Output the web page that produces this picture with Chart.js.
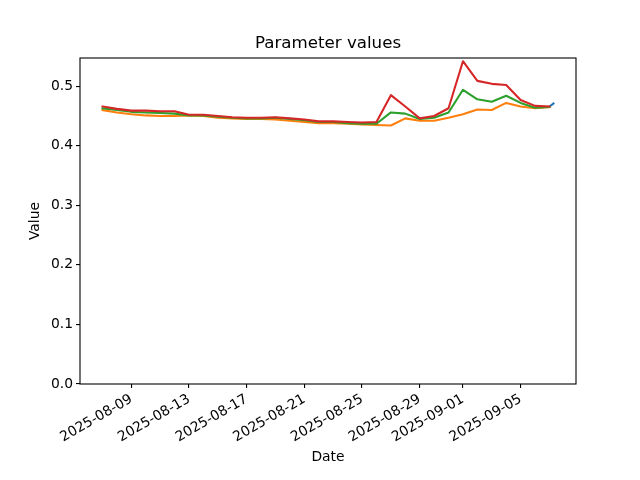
<!DOCTYPE html>
<html>
<head>
<meta charset="utf-8">
<script src="https://cdn.jsdelivr.net/npm/chart.js@4"></script>
<style>
html,body{margin:0;padding:0;background:#fff;}
#wrap{width:640px;height:480px;}
</style>
</head>
<body>
<div id="wrap"><canvas id="c" width="640" height="480"></canvas></div>
<script>
const dates = ['2025-08-07','2025-08-08','2025-08-09','2025-08-10','2025-08-11','2025-08-12','2025-08-13','2025-08-14',
  '2025-08-15','2025-08-16','2025-08-17','2025-08-18','2025-08-19','2025-08-20','2025-08-21','2025-08-22',
  '2025-08-23','2025-08-24','2025-08-25','2025-08-26','2025-08-27','2025-08-28','2025-08-29','2025-08-30',
  '2025-08-31','2025-09-01','2025-09-02','2025-09-03','2025-09-04','2025-09-05','2025-09-06','2025-09-07'];
const blueDates = ['2025-09-07T00:00','2025-09-07T06:40'];
const blueValues = [0.466, 0.471];
const orangeValues = [0.460,0.456,0.453,0.451,0.450,0.450,0.451,0.450,0.447,0.446,0.445,0.445,0.444,0.442,0.440,0.438,
  0.438,0.437,0.436,0.435,0.434,0.446,0.442,0.442,0.447,0.453,0.461,0.460,0.472,0.466,0.463,0.465];
const greenValues = [0.463,0.460,0.457,0.456,0.455,0.454,0.451,0.451,0.449,0.447,0.446,0.446,0.447,0.445,0.443,0.440,
  0.440,0.438,0.437,0.437,0.456,0.454,0.445,0.447,0.456,0.494,0.478,0.474,0.484,0.472,0.464,0.465];
const redValues = [0.466,0.462,0.459,0.459,0.458,0.458,0.452,0.452,0.450,0.448,0.447,0.447,0.448,0.446,0.444,0.441,
  0.441,0.440,0.439,0.440,0.485,0.466,0.446,0.450,0.463,0.542,0.509,0.504,0.502,0.477,0.467,0.466];
const xTickDates = ['2025-08-09','2025-08-13','2025-08-17','2025-08-21','2025-08-25','2025-08-29','2025-09-01','2025-09-05'];
const yTickValues = [0.0,0.1,0.2,0.3,0.4,0.5];

const DAY = 86400000;
function toDay(s){ const d = s.length>10 ? new Date(s+':00Z') : new Date(s+'T00:00:00Z'); return d.getTime()/DAY; }
const xs = dates.map(toDay);
const bx = blueDates.map(toDay);
const xmin0 = xs[0], xmax0 = bx[bx.length-1];
const span = xmax0 - xmin0;
const allY = [].concat(orangeValues, greenValues, redValues, blueValues);
const ymaxData = Math.max(...allY), yminData = Math.min(...allY);
const ymax = ymaxData + 0.05*(ymaxData - yminData);

function pts(xv, yv){ return xv.map((x,i)=>({x:x, y:yv[i]})); }
const tickMap = {};
xTickDates.forEach(d=>{ tickMap[toDay(d)] = d; });

const FONT = 'DejaVu Sans';
const frame = {
  id:'frame',
  afterDraw(chart){
    const a = chart.chartArea, ctx = chart.ctx;
    ctx.save(); ctx.strokeStyle='#000'; ctx.lineWidth=1.1;
    ctx.strokeRect(a.left, a.top, a.right-a.left, a.bottom-a.top);
    ctx.restore();
  }
};
function ds(label, data, color, order){
  return {label, data, borderColor:color, backgroundColor:color, borderWidth:2.08, pointRadius:0, fill:false, tension:0,
    borderCapStyle:'square', borderJoinStyle:'round', order};
}
new Chart(document.getElementById('c'), {
  type:'line',
  data:{ datasets:[
    ds('C0', pts(bx, blueValues), '#1f77b4', 4),
    ds('C1', pts(xs, orangeValues), '#ff7f0e', 3),
    ds('C2', pts(xs, greenValues), '#2ca02c', 2),
    ds('C3', pts(xs, redValues), '#d62728', 1)
  ]},
  options:{
    responsive:false, animation:false, devicePixelRatio:1,
    layout:{padding:{left:0,right:64,top:0,bottom:0}},
    plugins:{
      legend:{display:false}, tooltip:{enabled:false},
      title:{display:true, text:'Parameter values', fullSize:false, color:'#000',
        font:{family:FONT, size:16.67, weight:'normal'}, padding:{top:34,bottom:4}}
    },
    scales:{
      x:{ type:'linear', min:xmin0-0.05*span, max:xmax0+0.05*span,
        afterBuildTicks(s){ s.ticks = xTickDates.map(d=>({value:toDay(d)})); },
        afterFit(s){ s.height = 96; },
        ticks:{ autoSkip:false, minRotation:30, maxRotation:30, padding:3, color:'#000',
          font:{family:FONT,size:13.89}, callback:(v)=>tickMap[v] || '' },
        grid:{ display:true, drawOnChartArea:false, drawTicks:true, tickLength:4, color:'#000', lineWidth:1.1 },
        border:{ display:false },
        title:{ display:true, text:'Date', color:'#000', font:{family:FONT,size:13.89}, padding:{top:4,bottom:14} }
      },
      y:{ min:0, max:ymax,
        afterBuildTicks(s){ s.ticks = yTickValues.map(v=>({value:v})); },
        afterFit(s){ s.width = 80; },
        ticks:{ padding:3, color:'#000', font:{family:FONT,size:13.89}, callback:(v)=>v.toFixed(1) },
        grid:{ display:true, drawOnChartArea:false, drawTicks:true, tickLength:4, color:'#000', lineWidth:1.1 },
        border:{ display:false },
        title:{ display:true, text:'Value', color:'#000', font:{family:FONT,size:13.89}, padding:{top:27,bottom:0} }
      }
    }
  },
  plugins:[frame]
});
</script>
</body>
</html>
